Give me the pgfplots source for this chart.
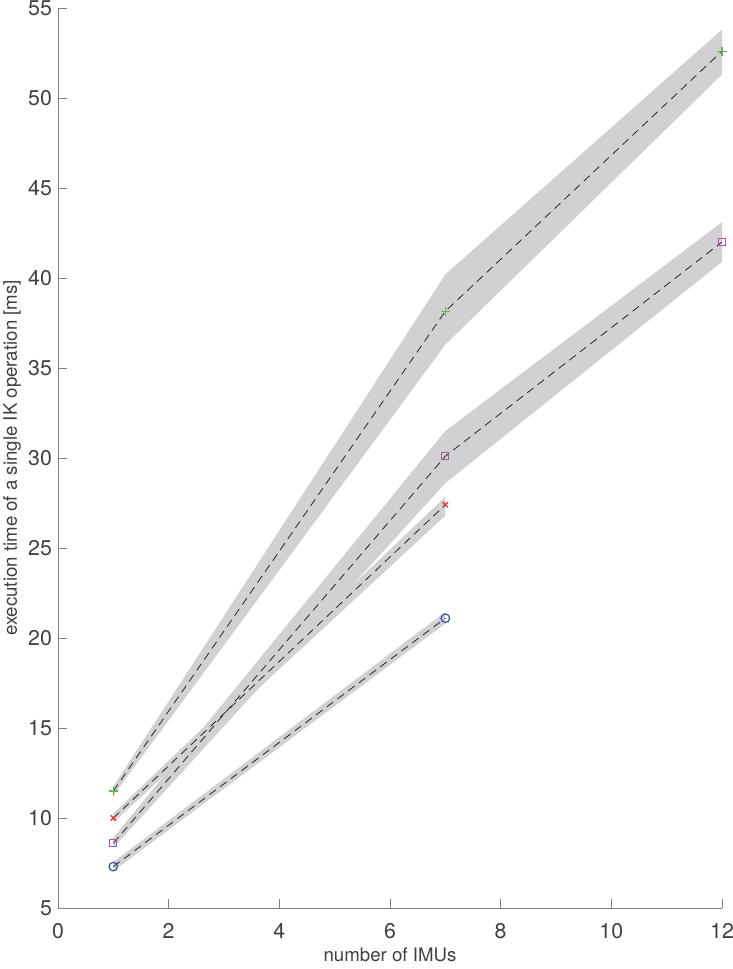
\documentclass[border=0pt]{standalone}
\usepackage{pgfplots}
\pgfplotsset{compat=1.18}
\usepackage{fontspec}
\setmainfont{TeX Gyre Heros}
\definecolor{axgray}{rgb}{0.5,0.5,0.5}
\definecolor{txtgray}{rgb}{0.25,0.25,0.25}
\definecolor{band}{rgb}{0.82,0.82,0.83}
\definecolor{mgreen}{rgb}{0.38,0.73,0.27}
\definecolor{mred}{rgb}{0.91,0.2,0.23}
\definecolor{mmag}{rgb}{0.75,0.3,0.65}
\definecolor{mblue}{rgb}{0.19,0.31,0.66}
\begin{document}
\begin{tikzpicture}
\begin{axis}[
  scale only axis,
  width=498pt, height=675pt,
  xmin=0, xmax=12, ymin=5, ymax=55,
  xtick={0,2,4,6,8,10,12},
  ytick={5,10,15,20,25,30,35,40,45,50,55},
  axis x line*=bottom, axis y line*=left,
  axis line style={axgray, line width=0.6pt, -},
  tick style={axgray, line width=0.6pt},
  major tick length=6.75pt,
  tick align=inside,
  /pgf/number format/assume math mode=true,
  tick label style={font=\fontsize{16}{16}\selectfont, text=txtgray},
  xticklabel style={yshift=-8pt},
  yticklabel style={xshift=-1pt},
  label style={font=\fontsize{14}{14}\selectfont, text=txtgray},
  xlabel={number of IMUs},
  ylabel={execution time of a single IK operation [ms]},
  x label style={at={(axis description cs:0.5,-0.0522)}, anchor=center},
  y label style={at={(axis description cs:-0.0693,0.5)}, anchor=center},
  clip=false,
]
% bands
\addplot[fill=band, draw=none] coordinates {(1,11.75) (7,40.2) (12,53.8) (12,51.3) (7,36.3) (1,11.25)} -- cycle;
\addplot[fill=band, draw=none] coordinates {(1,8.9) (7,31.5) (12,43.1) (12,40.9) (7,28.6) (1,8.35)} -- cycle;
\addplot[fill=band, draw=none] coordinates {(1,10.25) (7,27.85) (7,26.8) (1,9.75)} -- cycle;
\addplot[fill=band, draw=none] coordinates {(1,7.55) (7,21.45) (7,20.8) (1,7.05)} -- cycle;
% mean lines
\addplot[black!85, line width=0.6pt, dash pattern=on 6pt off 4pt] coordinates {(1,11.5) (7,38.15) (12,52.6)};
\addplot[black!85, line width=0.6pt, dash pattern=on 6pt off 4pt] coordinates {(1,8.6) (7,30.1) (12,42.0)};
\addplot[black!85, line width=0.6pt, dash pattern=on 6pt off 4pt] coordinates {(1,10.0) (7,27.4)};
\addplot[black!85, line width=0.6pt, dash pattern=on 6pt off 4pt] coordinates {(1,7.3) (7,21.1)};
% markers
\addplot[only marks, mark=+, mark size=3.5pt, mgreen, line width=1pt] coordinates {(1,11.5) (7,38.15) (12,52.6)};
\addplot[only marks, mark=square, mark size=2.6pt, mmag, line width=0.9pt] coordinates {(1,8.6) (7,30.1) (12,42.0)};
\addplot[only marks, mark=x, mark size=2.8pt, mred, line width=1pt] coordinates {(1,10.0) (7,27.4)};
\addplot[only marks, mark=o, mark size=3.2pt, mblue, line width=0.9pt] coordinates {(1,7.3) (7,21.1)};
\coordinate (sw) at (rel axis cs:0,0);
\coordinate (ne) at (rel axis cs:1,1);
\end{axis}
\pgfresetboundingbox
\path[use as bounding box] ([xshift=-43.5pt,yshift=-45.75pt]sw) rectangle ([xshift=7.5pt,yshift=6pt]ne);
\end{tikzpicture}
\end{document}
